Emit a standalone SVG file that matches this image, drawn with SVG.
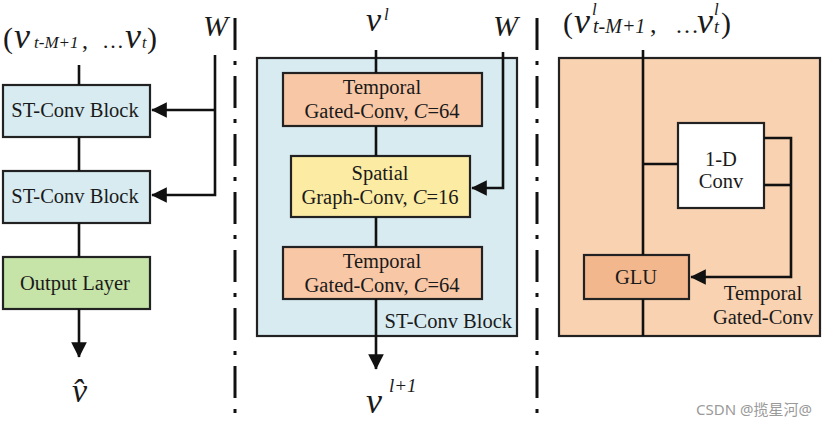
<svg xmlns="http://www.w3.org/2000/svg" width="828" height="427" viewBox="0 0 828 427">
<defs>
<style>
.t{font-family:"Liberation Serif","Times New Roman",serif;fill:#1a1a1a}
.b{font-size:20.5px}
.box{stroke:#222;stroke-width:2.2}
.ln{stroke:#111;stroke-width:2.6;fill:none}
.dd{stroke:#111;stroke-width:3;stroke-dasharray:32 11 4 11;fill:none}
.i{font-style:italic}
</style>
<marker id="ah" viewBox="0 0 10 10" refX="9.5" refY="5" markerWidth="6" markerHeight="6" orient="auto" markerUnits="strokeWidth">
<path d="M0,0 L10,5 L0,10 z" fill="#111"/>
</marker>
</defs>
<rect width="828" height="427" fill="#ffffff"/>

<!-- separators -->
<g id="separators">
<line class="dd" x1="235" y1="18" x2="235" y2="420"/>
<line class="dd" x1="537" y1="18" x2="537" y2="420"/>
</g>

<!-- Left panel labels -->
<text class="t" y="48" font-size="30"><tspan x="3">(</tspan><tspan class="i" x="14" font-size="36">v</tspan><tspan class="i" x="34" font-size="17">t-M+1</tspan><tspan x="82" font-size="24">,</tspan><tspan x="102" font-size="22">…</tspan><tspan class="i" x="125" font-size="36">v</tspan><tspan class="i" x="142" font-size="16">t</tspan><tspan x="147" font-size="30">)</tspan></text>
<text class="t i" x="203" y="36" font-size="30">W</text>
<text class="t i" x="72" y="402" font-size="34">v&#x302;</text>

<!-- Middle labels -->
<text class="t i" x="366" y="31" font-size="34">v<tspan x="384" y="20" font-size="17">l</tspan></text>
<text class="t i" x="493" y="36" font-size="30">W</text>
<text class="t i" x="366" y="413" font-size="36">v<tspan x="389" y="392" font-size="19">l+1</tspan></text>

<!-- Right labels -->
<text class="t" y="33" font-size="30"><tspan x="563">(</tspan><tspan class="i" x="574" font-size="36">v</tspan><tspan class="i" x="592" y="15" font-size="17">l</tspan><tspan class="i" x="593" y="33" font-size="20">t-M+1</tspan><tspan x="650" font-size="26">,</tspan><tspan x="675" font-size="24">…</tspan><tspan class="i" x="697" font-size="36">v</tspan><tspan class="i" x="714" y="15" font-size="17">l</tspan><tspan class="i" x="714" y="33" font-size="18">t</tspan><tspan x="721" font-size="30">)</tspan></text>

<!-- Left nodes -->
<g id="stconv1">
<rect class="box" x="3" y="85" width="147" height="52" fill="#d7ebf1"/>
<text class="t b" x="75" y="117" text-anchor="middle">ST-Conv Block</text>
</g>
<g id="stconv2">
<rect class="box" x="3" y="171" width="147" height="52" fill="#d7ebf1"/>
<text class="t b" x="75" y="203" text-anchor="middle">ST-Conv Block</text>
</g>
<g id="output">
<rect class="box" x="3" y="257" width="147" height="52" fill="#c6e3a8"/>
<text class="t b" x="75" y="290" text-anchor="middle">Output Layer</text>
</g>

<!-- Middle nodes -->
<g id="stblock">
<rect class="box" x="257" y="58" width="260" height="278" fill="#d7ebf1"/>
<text class="t b" x="512" y="328" text-anchor="end">ST-Conv Block</text>
</g>
<g id="temporal1">
<rect class="box" x="283" y="73" width="199" height="53" fill="#f8c7a6"/>
<text class="t b" x="382" y="94" text-anchor="middle">Temporal</text>
<text class="t b" x="382" y="118" text-anchor="middle">Gated-Conv, <tspan class="i">C</tspan>=64</text>
</g>
<g id="spatial">
<rect class="box" x="291" y="156" width="179" height="61" fill="#fbeba3"/>
<text class="t b" x="380" y="180" text-anchor="middle">Spatial</text>
<text class="t b" x="380" y="204" text-anchor="middle">Graph-Conv, <tspan class="i">C</tspan>=16</text>
</g>
<g id="temporal2">
<rect class="box" x="283" y="247" width="199" height="52" fill="#f8c7a6"/>
<text class="t b" x="382" y="268" text-anchor="middle">Temporal</text>
<text class="t b" x="382" y="292" text-anchor="middle">Gated-Conv, <tspan class="i">C</tspan>=64</text>
</g>

<!-- Right nodes -->
<g id="tgc">
<rect class="box" x="559" y="58" width="261" height="278" fill="#f9d2b1"/>
<text class="t b" x="763" y="300" text-anchor="middle">Temporal</text>
<text class="t b" x="763" y="324" text-anchor="middle">Gated-Conv</text>
</g>
<g id="conv1d">
<rect class="box" x="678" y="123" width="86" height="85" fill="#ffffff"/>
<text class="t b" x="721" y="166" text-anchor="middle">1-D</text>
<text class="t b" x="721" y="188" text-anchor="middle">Conv</text>
</g>
<g id="glu">
<rect class="box" x="584" y="255" width="105" height="44" fill="#f3b78d"/>
<text class="t b" x="636" y="284" text-anchor="middle">GLU</text>
</g>

<!-- connectors -->
<g id="connectors">
<line class="ln" x1="79" y1="65" x2="79" y2="85"/>
<line class="ln" x1="79" y1="137" x2="79" y2="171"/>
<line class="ln" x1="79" y1="223" x2="79" y2="257"/>
<line class="ln" x1="79" y1="309" x2="79" y2="357" marker-end="url(#ah)"/>
<polyline class="ln" points="215,55 215,195 152,195" marker-end="url(#ah)"/>
<line class="ln" x1="215" y1="110" x2="152" y2="110" marker-end="url(#ah)"/>

<line class="ln" x1="376" y1="50" x2="376" y2="73"/>
<line class="ln" x1="376" y1="126" x2="376" y2="156"/>
<line class="ln" x1="376" y1="217" x2="376" y2="247"/>
<line class="ln" x1="376" y1="299" x2="376" y2="369" marker-end="url(#ah)"/>
<polyline class="ln" points="503,52 503,188 472,188" marker-end="url(#ah)"/>

<line class="ln" x1="643" y1="50" x2="643" y2="255"/>
<line class="ln" x1="643" y1="299" x2="643" y2="336"/>
<line class="ln" x1="643" y1="164" x2="678" y2="164"/>
<polyline class="ln" points="764,138 791,138 791,277 691,277" marker-end="url(#ah)"/>
<line class="ln" x1="764" y1="185" x2="791" y2="185"/>
</g>

<text x="812" y="415" font-family="'Noto Sans','Noto Sans CJK SC',sans-serif" font-size="15" fill="#9a9a9a" text-anchor="end">CSDN @揽星河@</text>
</svg>
